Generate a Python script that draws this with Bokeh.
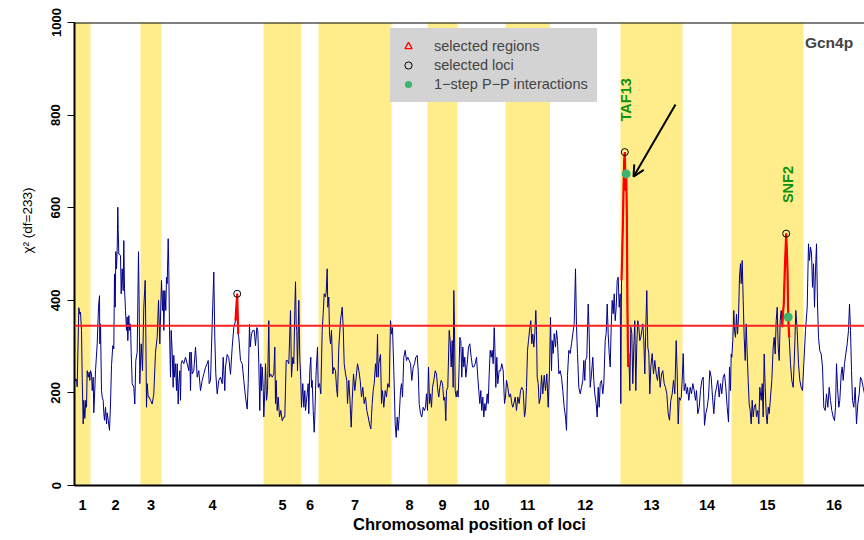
import math
from bokeh.plotting import figure
from bokeh.models import (Range1d, FixedTicker, Span, Label, Arrow, OpenHead,
                          Legend, LegendItem, Title)
from bokeh.embed import file_html
from bokeh.resources import INLINE

# ---------------- data ----------------
chrom_names = [str(i) for i in range(1, 17)]
chrom_bounds = [0, 16, 66, 87, 189, 227, 244, 317, 353, 383, 431, 475.5, 546,
                608, 657, 729, 790]

pos_a = [0, 1, 2, 2.7, 4.3, 5.3, 6, 7, 7.7, 8.7, 9.3, 10.3, 11.3, 12, 12.7, 13.7, 14.7, 15.3, 16, 17,
         17.7, 18.7, 19.3, 20, 21, 22.7, 24, 25, 25.3, 26, 27, 27.7, 28.7, 29.3, 30, 31, 32, 32.7, 33.7, 35,
         36, 37, 38.3, 39.3, 40, 40.7, 41.3, 42, 42.7, 43.3, 43.7, 44.3, 46, 46.7, 47.7, 48.7, 49.3, 50, 51, 52,
         52.7, 53.3, 54.3, 55, 56, 56.7, 57.7, 59.3, 60.3, 61.3, 62.7, 64, 64.7, 65.3, 66.7, 68, 69.3, 70.7, 71.3, 72,
         72.7, 73.7, 74.7, 76, 77.7, 79.3, 81, 82.7, 84, 85.3, 86, 87, 88, 88.7, 89.3, 90.3, 91.3, 92, 92.7, 93.7,
         94.3, 95, 96, 96.7, 97.7, 98.7, 99.3, 100, 101, 102, 102.7, 103.7, 104.3, 105.3, 106, 106.7, 107.7, 109.3, 111, 112.7,
         114.3, 115.3, 116, 116.7, 117.7, 119.3, 121, 122, 122.7, 124.3, 126, 127.7, 129.3, 131, 132.7, 133.7, 134.7, 136, 137.7, 139.3,
         140.3, 141.3, 142.7, 144.3, 146, 147.7, 148.7, 149.3, 150.3]
chi_a = [234, 226, 230, 213, 384, 370, 374, 335, 234, 133, 184, 145, 184, 169, 248, 234, 245, 227, 248, 241,
         205, 234, 157, 191, 248, 306, 385, 410, 306, 349, 205, 191, 184, 157, 141, 169, 133, 157, 141, 119,
         176, 259, 302, 295, 457, 385, 505, 468, 511, 601, 553, 500, 497, 414, 468, 421, 529, 425, 378, 335,
         364, 313, 367, 335, 349, 288, 220, 212, 176, 270, 288, 505, 385, 220, 306, 248, 385, 443, 331, 169,
         220, 191, 191, 184, 176, 198, 288, 320, 400, 306, 364, 443, 378, 421, 335, 421, 378, 450, 436, 533,
         468, 335, 234, 335, 288, 212, 281, 234, 263, 205, 263, 176, 220, 248, 184, 263, 270, 263, 277, 263,
         248, 288, 205, 288, 241, 248, 299, 263, 234, 248, 205, 227, 241, 255, 263, 270, 220, 227, 349, 461,
         320, 241, 198, 227, 234, 220, 277, 248, 205]

pos_b = [151, 152.7, 154.3, 156, 157.7, 159.3, 161, 162.7, 163.7, 164.3, 166, 167.7, 169.3, 171, 172.7, 173.7, 175, 175.7, 177, 178.3,
         179.7, 181, 182.3, 183.3, 184.3, 185.3, 186.3, 187, 187.7, 188.7, 189.3, 190.3, 191, 192, 193, 194.3, 195, 196, 197.7, 199.3,
         200.3, 201, 201.7, 202.7, 203.7, 205, 206.3, 207.7, 209.3, 210.3, 211.7, 213, 214.3, 216, 217, 218.3, 219.3, 220.3, 221, 221.7,
         222.3, 223, 224.3, 225.3, 226.3, 227, 228.3, 229.3, 230.3, 231, 232.3, 233.7, 234.3, 235.3, 236.3, 237, 237.7, 238.7, 239.7, 240.3,
         241, 241.7, 243, 243.7, 245, 246.3, 247.7, 248.7, 249.7, 251, 251.7, 252.7, 253.3, 254.3, 255, 256, 257, 258.3, 259.3, 261,
         262, 263, 264.3, 266, 267.7, 268.7, 269.7, 271, 272.3, 273, 274.3, 275.3, 276.7, 277.7, 279, 280.3, 281.7, 283, 284.3, 285.7,
         287, 288.3, 289.7, 291, 292.3, 293.7, 295, 296.3, 297.7, 298.7, 299.7, 301, 302, 303, 303.7, 304.3]
chi_b = [256, 283, 276, 240, 299, 341, 356, 414, 327, 320, 270, 263, 227, 191, 165, 220, 348, 299, 327, 335,
         335, 302, 341, 335, 263, 162, 263, 205, 256, 212, 148, 205, 263, 184, 205, 356, 234, 241, 234, 241,
         299, 177, 227, 162, 191, 148, 162, 140, 148, 148, 270, 270, 263, 378, 234, 277, 263, 378, 440, 348,
         335, 248, 400, 277, 227, 169, 220, 169, 205, 162, 191, 220, 155, 248, 277, 212, 227, 162, 115, 148,
         205, 248, 299, 212, 220, 198, 335, 371, 414, 407, 418, 468, 385, 407, 327, 306, 335, 241, 255, 248,
         212, 191, 299, 356, 385, 341, 263, 241, 227, 177, 227, 191, 126, 184, 241, 205, 234, 263, 249, 227,
         191, 212, 177, 191, 162, 148, 133, 122, 177, 205, 220, 263, 234, 327, 234, 263]

pos_c = [306, 307, 308, 309.3, 310.7, 312, 313.3, 314.7, 316, 317, 318, 319.3, 320.7, 321.7, 322.7, 323.7, 324.7, 326, 327, 328,
         329.3, 330.7, 332, 333.3, 334.7, 336, 337.3, 338.7, 340, 341.3, 342.7, 343.7, 344.7, 346, 347.3, 348.7, 350, 351, 352, 353,
         354, 355, 356, 357, 358, 359.3, 360.7, 362, 363.3, 364.3, 365.3, 366.7, 368, 369.3, 370.3, 371.3, 372, 373.3, 374.7, 375.7,
         376.7, 377.7, 378.7, 379.3, 380, 380.7, 381.7, 382.7, 383.7, 384.7, 385.3, 386.3, 387.3, 388.3, 389.3, 390.3, 391.3, 392.7, 394, 395.3,
         396.7, 398, 399.3, 400.7, 402, 403.3, 404.3, 405.3, 406.3, 407.3, 408.3, 409.3, 410.3, 411.3, 412.7, 413.7, 414.7, 415.7, 416.7, 417.7,
         418.7, 419.7, 420.3, 421.3, 422.3, 423.3, 424.7, 426, 427.3, 428.7, 430, 431, 432, 433.3, 434.7, 436, 437.3, 438.3, 439.3, 440.7,
         442, 443.3, 444.7, 446, 447.3, 448.7, 450, 451, 452, 453, 454, 455.3, 456.3, 457.3, 458.3, 459.3, 460.3, 461.3, 462, 462.7,
         463.7, 464.7, 466]
chi_c = [283, 177, 205, 169, 205, 191, 220, 212, 356, 327, 341, 248, 133, 104, 148, 119, 148, 205, 220, 191,
         277, 292, 270, 277, 270, 263, 227, 256, 263, 277, 281, 248, 177, 155, 148, 169, 162, 169, 198, 162,
         256, 177, 198, 169, 212, 227, 248, 241, 205, 191, 212, 227, 220, 184, 191, 140, 205, 212, 335, 313,
         256, 313, 212, 421, 341, 205, 191, 205, 191, 263, 320, 313, 234, 299, 256, 277, 234, 263, 299, 306,
         277, 256, 256, 263, 277, 234, 205, 177, 205, 162, 191, 148, 177, 162, 198, 177, 241, 292, 277, 292,
         263, 341, 306, 212, 277, 220, 248, 248, 263, 248, 177, 191, 227, 212, 191, 198, 177, 169, 177, 191,
         162, 191, 177, 205, 212, 205, 148, 162, 212, 292, 313, 341, 356, 306, 327, 299, 327, 378, 335, 234,
         220, 177, 191]

pos_d = [467, 468.3, 469.7, 471, 472.3, 473.7, 475, 476, 477, 477.7, 478.7, 479.7, 481, 482, 483, 484.3, 485.7, 487, 488.3, 489.7,
         491, 492, 493, 494.3, 495.7, 497, 498.3, 499.7, 501, 502, 503, 504.3, 505.7, 507, 508.3, 509.3, 510.3, 511, 512.3, 513.7,
         514.7, 515.7, 517, 518.3, 519.3, 520.3, 521.7, 522.7, 523.7, 524.7, 525.7, 527, 528.3, 529.3, 530.7, 531.7, 532.7, 533.7, 534.7, 535.7,
         536.7, 537.7, 538.7, 539.7, 540.7, 541.7, 542.7, 543.7, 544.7, 545.7, 546.3, 547, 547.7, 548.3, 549, 549.7, 550.3, 551, 551.7, 552.3,
         553, 553.7, 554.3, 555.3, 556.3, 557.3, 558.3, 559.3, 560.3, 561.3, 562.3, 563.3, 564.3, 565.3, 566.3, 567.3, 568.3, 569.3, 570.3, 571.3,
         572.3, 573.3, 574.3, 575.3, 576.3, 577.7, 579, 580.3, 581.7, 583, 584.3, 585.7, 587, 588.3, 589.7, 591, 592.3, 593.7, 595, 596.3,
         597.7, 599, 600.3, 601.7, 602.7, 603.7, 604.7, 605.7, 606.7, 607.7, 608.7, 609.7, 611, 612, 613, 614.3, 615.7, 617, 618.3, 619.7]
chi_d = [238, 198, 238, 205, 241, 169, 248, 363, 248, 313, 285, 328, 299, 335, 313, 241, 248, 234, 205, 169,
         148, 119, 238, 292, 285, 306, 328, 349, 468, 342, 285, 212, 198, 212, 227, 270, 227, 270, 277, 392,
         328, 212, 241, 277, 227, 198, 177, 148, 212, 169, 220, 227, 198, 220, 313, 328, 392, 328, 285, 256,
         342, 400, 371, 414, 356, 385, 443, 450, 385, 414, 177, 443, 501, 558, 637, 702, 720, 637, 673, 587,
         371, 256, 285, 205, 342, 328, 220, 299, 356, 205, 306, 356, 342, 313, 320, 335, 349, 313, 241, 342,
         421, 299, 285, 198, 256, 285, 241, 270, 241, 227, 256, 212, 241, 248, 220, 212, 198, 155, 141, 184,
         198, 227, 198, 313, 241, 133, 190, 184, 190, 227, 285, 205, 220, 198, 212, 184, 212, 198, 220, 205]

pos_e = [621, 622, 623.3, 624.7, 626, 627.3, 628.7, 630, 631.3, 632.7, 634, 635.3, 636.7, 638, 639.3, 640.7, 642, 643.3, 644.7, 646,
         647.3, 648.7, 650, 651.3, 652.7, 654, 655, 656, 656.7, 657.3, 658.3, 659.3, 660, 661, 662, 663, 664, 665, 666, 666.7,
         667.7, 668.7, 669.7, 670.7, 671.7, 672.7, 673.7, 674.7, 675.7, 676.7, 677.7, 678.7, 679.7, 681, 682, 683.3, 684.3, 685.3, 686.7, 687.7,
         688.7, 689.7, 690.7, 691.7, 692.7, 693.7, 694.7, 696, 697.3, 698.7, 699.7, 700.7, 701.7, 702.7, 703.7, 704.7, 705.7, 706.7, 707.7, 708.7,
         709.3, 710.3, 711.7, 713, 713.7, 714.7, 716, 717.3, 718.7, 720, 721.3, 722.7, 724, 725.3, 726.7, 728, 729.3, 731, 732.7, 734,
         735, 736, 737, 738, 739, 740, 741, 742, 743, 744, 745.3, 746.7, 748, 749.3, 750.7, 752, 753.3, 754.7, 756, 757.3,
         758.7, 760, 761, 762, 763, 764.3, 765.3, 766.7, 767.7, 768.7, 770, 771.3, 772.7, 774, 775, 776, 777, 778, 779.3, 780.7,
         782, 783.3, 784.7, 786, 787.3, 788.7, 790]
chi_e = [184, 205, 155, 169, 205, 227, 234, 130, 155, 169, 191, 248, 234, 191, 155, 198, 212, 227, 191, 220,
         198, 234, 241, 212, 169, 137, 256, 205, 284, 277, 313, 378, 335, 320, 370, 327, 364, 450, 479, 436,
         486, 400, 320, 270, 349, 284, 227, 176, 162, 133, 184, 148, 169, 176, 148, 162, 133, 212, 184, 220,
         148, 284, 212, 155, 133, 169, 155, 191, 227, 299, 320, 284, 356, 385, 299, 270, 356, 378, 342, 378,
         392, 465, 544, 465, 364, 320, 263, 227, 212, 284, 378, 335, 263, 227, 212, 205, 263, 335, 385, 522,
         486, 515, 502, 428, 479, 385, 465, 522, 392, 320, 291, 284, 256, 169, 162, 198, 169, 212, 184, 162,
         148, 140, 169, 263, 212, 169, 184, 241, 256, 227, 263, 284, 306, 335, 392, 335, 248, 184, 169, 212,
         133, 176, 198, 234, 227, 212, 198]

threshold = 345
selected_regions = [(160.9, 163.8), (546.8, 554.0), (707.5, 714.8)]
selected_loci = [162.7, 550.3, 711.7]
ppi_loci = [551.7, 713.7]
ppi_genes = ["TAF13", "SNF2"]
gene_label_y = [833, 650]

# ---------------- assemble ----------------
loci = pos_a + pos_b + pos_c + pos_d + pos_e
chi2 = chi_a + chi_b + chi_c + chi_d + chi_e
lookup = dict(zip(loci, chi2))

FONT = "Liberation Sans"
GREEN_TXT = "#119011"
LEG_BG = "#D3D3D3"

p = figure(width=864, height=540, output_backend="svg", toolbar_location=None,
           x_range=Range1d(0, 790), y_range=Range1d(0, 1000),
           min_border_left=74, min_border_right=0, min_border_top=22,
           min_border_bottom=55, title=None)
p.outline_line_color = None
p.grid.visible = False
p.background_fill_color = "white"

# chromosome bands (odd chromosomes shaded)
lefts = [chrom_bounds[i] for i in range(0, 16, 2)]
rights = [chrom_bounds[i + 1] for i in range(0, 16, 2)]
p.quad(left=lefts, right=rights, bottom=[0] * len(lefts), top=[1000] * len(lefts),
       fill_color="#FFEC8B", line_color=None)

# chi2 profile
p.line(loci, chi2, line_color="#00008B", line_width=1)

# threshold
p.add_layout(Span(location=threshold, dimension="width", line_color="#FF2222",
                  line_width=2))

# selected regions in red
for lo, hi in selected_regions:
    xs = [x for x in loci if lo <= x <= hi]
    ys = [lookup[x] for x in xs]
    p.line(xs, ys, line_color="#FF0000", line_width=2.2)

sel = p.scatter([x for x in selected_loci], [lookup[x] for x in selected_loci],
                marker="circle", size=7, fill_color=None, line_color="black",
                line_width=1)
ppi = p.scatter([x for x in ppi_loci], [lookup[x] for x in ppi_loci],
                marker="circle", size=9, fill_color="#3CB371", line_color=None)
# legend key for the selected regions (kept off the visible range)
reg_key = p.scatter(x=[selected_loci[0]], y=[-500], marker="triangle", size=10,
                    fill_color=None, line_color="#FF0000", line_width=1.3)

# gene labels
for gx, gy, name in zip(ppi_loci, gene_label_y, ppi_genes):
    p.add_layout(Label(x=gx, y=gy, text=name, angle=math.pi / 2,
                       text_align="center", text_baseline="middle",
                       text_color=GREEN_TXT, text_font=FONT,
                       text_font_style="bold", text_font_size="14.5px"))

# arrow pointing at TAF13
p.add_layout(Arrow(end=OpenHead(size=11, line_width=2, line_color="black"),
                   x_start=601, y_start=823, x_end=559, y_end=667,
                   line_width=2, line_color="black"))

# title text
p.add_layout(Label(x=754.5, y=957, text="Gcn4p", text_align="center",
                   text_baseline="middle", text_font=FONT,
                   text_font_style="bold", text_font_size="15.5px"))

# y label as a side title, starting at the middle of the axis
p.add_layout(Title(text="χ² (df=233)", align="left", offset=232, standoff=28,
                   text_font=FONT, text_font_size="13.5px",
                   text_font_style="normal", text_color="black"), "left")

# top frame line
p.add_layout(Span(location=1000, dimension="width", line_color="black",
                  line_width=2))

# axes
yax = p.yaxis[0]
yax.ticker = FixedTicker(ticks=[0, 200, 400, 600, 800, 1000])
yax.major_label_orientation = "vertical"
yax.major_tick_out = 7
yax.major_tick_in = 0
yax.minor_tick_line_color = None
yax.axis_line_width = 2
yax.major_tick_line_width = 1
yax.major_label_standoff = 7
yax.major_label_text_font = FONT
yax.major_label_text_font_style = "bold"
yax.major_label_text_font_size = "13px"
yax.major_label_text_color = "black"

mids = [(chrom_bounds[i] + chrom_bounds[i + 1]) / 2 for i in range(16)]
xax = p.xaxis[0]
xax.ticker = FixedTicker(ticks=mids)
xax.major_label_overrides = {m: n for m, n in zip(mids, chrom_names)}
xax.major_tick_out = 0
xax.major_tick_in = 0
xax.minor_tick_line_color = None
xax.axis_line_width = 2
xax.major_label_standoff = 14
xax.major_label_text_font = FONT
xax.major_label_text_font_style = "bold"
xax.major_label_text_font_size = "14.5px"
xax.major_label_text_color = "black"
xax.axis_label = "Chromosomal position of loci"
xax.axis_label_standoff = 2
xax.axis_label_text_font = FONT
xax.axis_label_text_font_style = "bold"
xax.axis_label_text_font_size = "16.5px"
xax.axis_label_text_color = "black"

legend = Legend(items=[LegendItem(label="selected regions", renderers=[reg_key]),
                       LegendItem(label="selected loci", renderers=[sel]),
                       LegendItem(label="1−step P−P interactions", renderers=[ppi])],
                location=(316, 383), margin=0, padding=8, spacing=1,
                glyph_width=18, glyph_height=18, label_height=18,
                label_standoff=17, background_fill_color=LEG_BG,
                background_fill_alpha=1, border_line_color=LEG_BG,
                border_line_width=1,
                label_text_font=FONT, label_text_font_size="14.5px")
p.add_layout(legend)

open("out.html", "w").write(file_html(p, INLINE))
